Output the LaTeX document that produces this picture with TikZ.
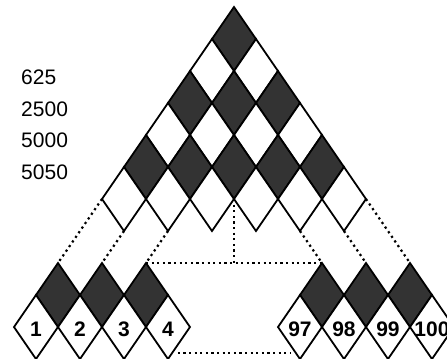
\documentclass[tikz,border=0pt]{standalone}
\usepackage{fontspec}
\setmainfont{Liberation Sans}
\usetikzlibrary{shapes.geometric}

\tikzset{
  cell/.style={draw, shape=diamond, line width=1.8pt, minimum width=44pt, minimum height=64pt, inner sep=0pt, outer sep=0pt},
  dark/.style={cell, fill=black!80},
  light/.style={cell, fill=white},
  gap/.style={line width=2.2pt, dash pattern=on 2.2pt off 3.4pt},
  num/.style={font=\fontsize{21}{21}\selectfont\bfseries, inner sep=0pt, yshift=-2pt},
  total/.style={font=\fontsize{21}{21}\selectfont, inner sep=0pt, anchor=west},
}

\begin{document}
\begin{tikzpicture}[x=22pt, y=-32pt]
  \useasboundingbox (-10.636,-0.219) rectangle (9.682,10.969);
  \clip (-10.636,-0.219) rectangle (9.682,10.969);
  % triangle of tiles
  \foreach \r/\tone in {0/dark,1/light,2/dark,3/light,4/dark,5/light}
    \foreach \j in {0,...,\r}
      \node[\tone] (d\r-\j) at (2*\j-\r, \r+1) {};
  % bottom tiles
  \foreach \j in {0,1,2,6,7,8}
    \node[dark] (d8-\j) at (2*\j-8, 9) {};
  \foreach \j/\n in {0/1,1/2,2/3,3/4,6/97,7/98,8/99,9/100} {
    \node[light] (d9-\j) at (2*\j-9, 10) {};
    \node[num] (n\n) at (d9-\j) {\n};
  }
  % sums
  \node[total] (s1) at (-9.68, 2.2) {625};
  \node[total] (s2) at (-9.68, 3.19) {2500};
  \node[total] (s3) at (-9.68, 4.17) {5000};
  \node[total] (s4) at (-9.68, 5.17) {5050};
  % dotted gaps
  \draw[gap] (d5-0.west) -- (d8-0.north);
  \draw[gap] (d5-0.south) -- (d8-1.north);
  \draw[gap] (d5-1.south) -- (d8-2.north);
  \draw[gap] (d8-2.north) -- (d8-6.north);
  \draw[gap] (d4-2.south) -- (d4-2.south |- d8-2.north);
  \draw[gap] (d5-4.south) -- (d8-6.north);
  \draw[gap] (d5-5.south) -- (d8-7.north);
  \draw[gap] (d5-5.east) -- (d8-8.north);
  \coordinate (gapL) at (-2.55, 10.81);
  \coordinate (gapR) at (2.55, 10.81);
  \draw[gap] (gapL) -- (gapR);
\end{tikzpicture}
\end{document}
